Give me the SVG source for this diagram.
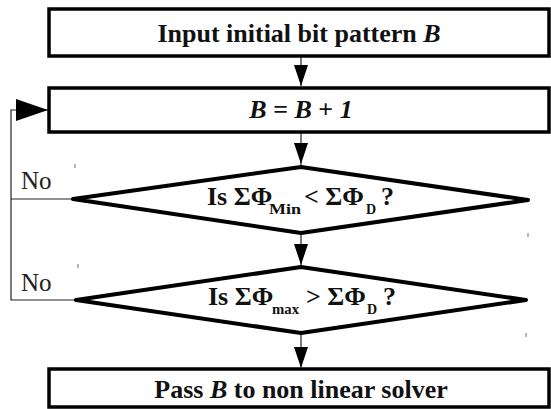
<svg xmlns="http://www.w3.org/2000/svg" width="551" height="409" viewBox="0 0 551 409">
<style>
.box{fill:#fff;stroke:#000;stroke-width:3.5}
.dia{fill:#fff;stroke:#000;stroke-width:4;stroke-linejoin:round}
.t{font-family:'Liberation Serif','DejaVu Serif',serif;font-weight:bold;font-size:26px;fill:#111}
.it{font-style:italic}
.sub{font-size:14px}
.no{font-family:'Liberation Serif','DejaVu Serif',serif;font-size:25px;fill:#222}
.ln{fill:none;stroke:#222;stroke-width:1.2}
.tick{stroke:#888;stroke-width:1.2}
</style>
<defs>
<marker id="ahL" markerUnits="userSpaceOnUse" markerWidth="32" markerHeight="22" refX="32" refY="11" orient="0" viewBox="0 0 32 22">
<path d="M0,0 L32,11 L0,22 z" fill="#000"/>
</marker>
</defs>
<g id="connectors">
<path class="ln" d="M301,57 V86"/>
<path class="ln" d="M301,133 V165"/>
<path class="ln" d="M301,234 V265"/>
<path class="ln" d="M301,334 V367"/>
<path class="ln" d="M76,300 H11 V110 H48" marker-end="url(#ahL)"/>
<path class="ln" d="M73,199 H11"/>
</g>
<g id="heads" fill="#000">
<path d="M294,65 L308,65 L301,86 z"/>
<path d="M294,143 L308,143 L301,164 z"/>
<path d="M294,244 L308,244 L301,265 z"/>
<path d="M294,347 L308,347 L301,368 z"/>
</g>
<g id="ticks">
<line class="tick" x1="75" y1="164" x2="75" y2="168"/>
<line class="tick" x1="528" y1="233" x2="528" y2="237"/>
<line class="tick" x1="78" y1="264" x2="78" y2="268"/>
<line class="tick" x1="526" y1="333" x2="526" y2="337"/>
</g>
<g id="n1">
<rect class="box" x="49" y="9" width="500" height="47"/>
<text class="t" x="299" y="42" text-anchor="middle">Input initial bit pattern <tspan class="it">B</tspan></text>
</g>
<g id="n2">
<rect class="box" x="49" y="88" width="500" height="44"/>
<text class="t" x="301" y="118" text-anchor="middle"><tspan class="it">B</tspan> = <tspan class="it">B</tspan> + <tspan class="it">1</tspan></text>
</g>
<g id="n3">
<polygon class="dia" points="301,167 528,200 301,233 73,199"/>
<text class="t" x="207" y="205">Is ΣΦ</text>
<text class="t sub" x="269" y="214" textLength="32" lengthAdjust="spacingAndGlyphs">Min</text>
<text class="t" x="304" y="205">&lt; ΣΦ</text>
<text class="t sub" x="366" y="214">D</text>
<text class="t" x="381" y="205">?</text>
</g>
<g id="n4">
<polygon class="dia" points="301,267 526,300 301,333 76,300"/>
<text class="t" x="208" y="305">Is ΣΦ</text>
<text class="t sub" x="272" y="314" textLength="27" lengthAdjust="spacingAndGlyphs">max</text>
<text class="t" x="306" y="305">&gt; ΣΦ</text>
<text class="t sub" x="367" y="314">D</text>
<text class="t" x="383" y="305">?</text>
</g>
<g id="n5">
<rect class="box" x="49" y="369" width="500" height="38"/>
<text class="t" x="301" y="398" text-anchor="middle">Pass <tspan class="it">B</tspan> to non linear solver</text>
</g>
<g id="labels">
<text class="no" x="21" y="189">No</text>
<text class="no" x="21" y="291">No</text>
</g>
</svg>
